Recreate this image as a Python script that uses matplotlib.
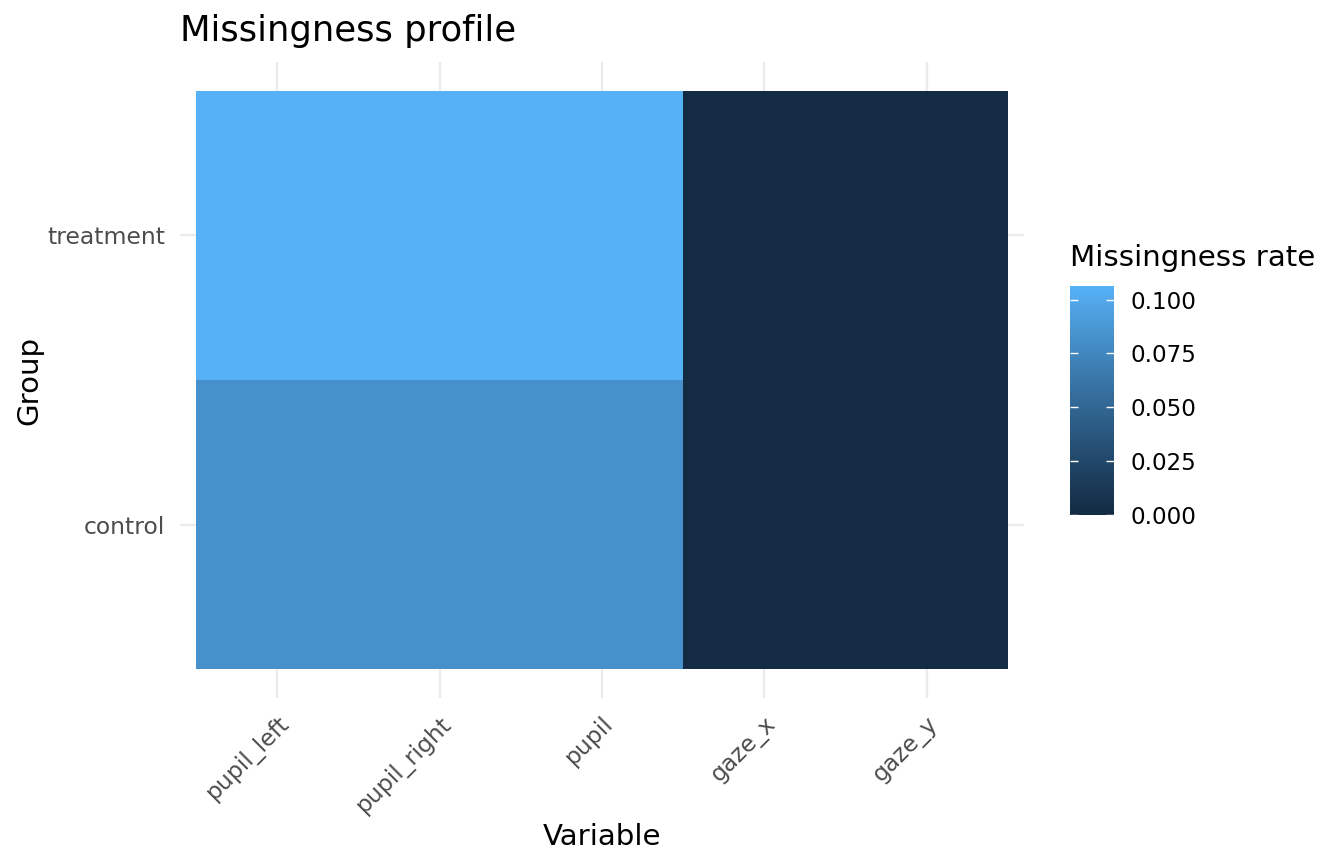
import numpy as np
import matplotlib
matplotlib.use("Agg")
import matplotlib.pyplot as plt
from matplotlib.colors import ListedColormap, Normalize
from matplotlib.cm import ScalarMappable

# Data
variables = ["pupil_left", "pupil_right", "pupil", "gaze_x", "gaze_y"]
groups = ["control", "treatment"]
control_rate = [0.082, 0.082, 0.082, 0.0, 0.0]
treatment_rate = [0.1063, 0.1063, 0.1063, 0.0, 0.0]


# ggplot-like gradient (#132B43 -> #56B1F7) interpolated in CIELAB
def srgb_to_lab(rgb):
    c = np.asarray(rgb, float)
    c = np.where(c <= 0.04045, c / 12.92, ((c + 0.055) / 1.055) ** 2.4)
    M = np.array([[0.4124, 0.3576, 0.1805],
                  [0.2126, 0.7152, 0.0722],
                  [0.0193, 0.1192, 0.9505]])
    xyz = M @ c / np.array([0.95047, 1.0, 1.08883])
    f = np.where(xyz > 0.008856, np.cbrt(xyz), 7.787 * xyz + 16 / 116)
    return np.array([116 * f[1] - 16, 500 * (f[0] - f[1]), 200 * (f[1] - f[2])])


def lab_to_srgb(lab):
    L, a, b = lab
    fy = (L + 16) / 116
    fx = fy + a / 500
    fz = fy - b / 200
    f = np.array([fx, fy, fz])
    xyz = np.where(f ** 3 > 0.008856, f ** 3, (f - 16 / 116) / 7.787)
    xyz = xyz * np.array([0.95047, 1.0, 1.08883])
    Minv = np.array([[3.2406, -1.5372, -0.4986],
                     [-0.9689, 1.8758, 0.0415],
                     [0.0557, -0.2040, 1.0570]])
    c = Minv @ xyz
    c = np.where(c <= 0.0031308, 12.92 * c, 1.055 * np.clip(c, 0, None) ** (1 / 2.4) - 0.055)
    return np.clip(c, 0, 1)


lo = srgb_to_lab(np.array([0x13, 0x2B, 0x43]) / 255)
hi = srgb_to_lab(np.array([0x56, 0xB1, 0xF7]) / 255)
cmap = ListedColormap([lab_to_srgb(lo + t * (hi - lo)) for t in np.linspace(0, 1, 256)])

Z = np.array([control_rate, treatment_rate])
vmax = Z.max()
norm = Normalize(0, vmax)

fig = plt.figure(figsize=(13.44, 8.64), dpi=100)
ax = fig.add_axes([180 / 1344, 166 / 864, 844 / 1344, 636 / 864])

xe = np.arange(len(variables) + 1) - 0.5
ye = np.arange(len(groups) + 1) - 0.5
ax.pcolormesh(xe, ye, Z, cmap=cmap, norm=norm, zorder=2)

ax.set_xlim(-0.6, len(variables) - 0.4)
ax.set_ylim(-0.6, len(groups) - 0.4)
ax.set_xticks(range(len(variables)))
ax.set_xticklabels(variables, rotation=45, ha="right", va="top", rotation_mode="anchor")
ax.set_yticks(range(len(groups)))
ax.set_yticklabels(groups)
ax.tick_params(length=0, labelsize=16.9, labelcolor="#4D4D4D", pad=10.5)
ax.tick_params(axis="x", pad=10)
ax.grid(True, color="#EBEBEB", lw=1.6, zorder=0)
ax.set_axisbelow(True)
for s in ax.spines.values():
    s.set_visible(False)

ax.set_xlabel("Variable", fontsize=21.1, labelpad=5)
ax.set_ylabel("Group", fontsize=21.1, labelpad=3)
ax.set_title("Missingness profile", loc="left", fontsize=25.5, pad=15)

# Colour bar legend
cax = fig.add_axes([1070 / 1344, 349 / 864, 44 / 1344, 229 / 864])
cb = fig.colorbar(ScalarMappable(norm=norm, cmap=cmap), cax=cax)
cb.outline.set_visible(False)
cb.set_ticks([0, 0.025, 0.05, 0.075, 0.1])
cb.set_ticklabels(["0.000", "0.025", "0.050", "0.075", "0.100"])
cax.tick_params(left=True, right=True, direction="in", color="white",
                length=6, width=1, labelsize=16.6, pad=12)
fig.text(1070 / 1344, 1 - 258 / 864, "Missingness rate", fontsize=21.1, va="center", ha="left")

fig.savefig("out.png", dpi=100)
